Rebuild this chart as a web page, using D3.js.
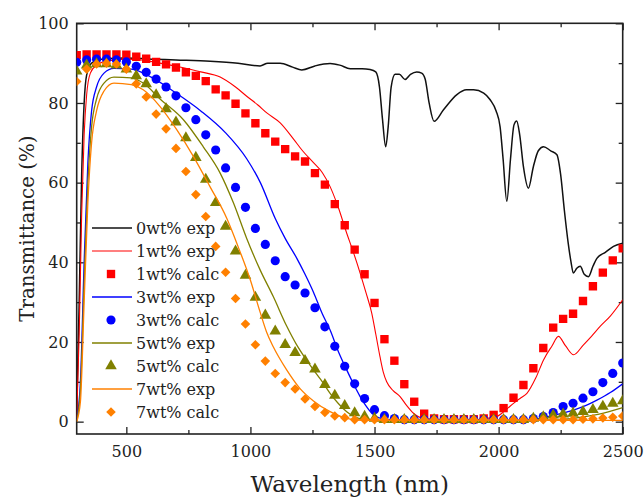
<!DOCTYPE html>
<html><head><meta charset="utf-8">
<script src="https://cdn.jsdelivr.net/npm/d3@7"></script>
<style>body{margin:0;background:#fff}svg{display:block}</style>
</head><body><svg id="c" width="644" height="497"></svg>
<script>
const xTicks = [500, 1000, 1500, 2000, 2500];
const xMinor = [750, 1250, 1750, 2250];
const yTicks = [0, 20, 40, 60, 80, 100];
const yMinor = [10, 30, 50, 70, 90];

const calcWavelength = [300,340,380,420,460,500,540,580,620,660,700,740,780,820,860,900,940,980,1020,1060,1100,1140,1180,1220,1260,1300,1340,1380,1420,1460,1500,1540,1580,1620,1660,1700,1740,1780,1820,1860,1900,1940,1980,2020,2060,2100,2140,2180,2220,2260,2300,2340,2380,2420,2460,2500];
const calc1 = [92,92.2,92.2,92.2,92.2,92.1,91.6,91.1,90.3,89.7,88.9,87.7,86.8,85.5,83.4,81.9,79.8,77.4,74.9,72.4,70.3,68.4,66.6,65.3,62.4,59.5,54.6,49.3,43.2,37,29.8,20.7,15.3,9.4,5,2,0.8,0.6,0.6,0.6,0.6,0.8,1.7,3.4,6,9.2,13.4,18.5,23.6,25.8,27.1,30.3,34,37.4,40.5,43.5];
const calc3 = [90.2,90.8,91,91,90.8,90.3,89.2,87.7,86,84,81.8,78.8,75.8,72,68.2,63.7,58.8,53.8,48.5,44.5,40.4,36.4,34.3,32.3,28.6,23.8,18.9,13.9,9.5,5.8,3,1.5,0.8,0.5,0.5,0.5,0.5,0.5,0.5,0.5,0.5,0.5,0.5,0.5,0.5,0.5,0.8,1.3,2.3,3.8,4.6,5.9,7.5,9.8,12.1,14.7];
const calc5 = [88,89.5,89.8,89.8,89.5,88.5,86.8,84.8,82,78.5,75.2,71.2,66.3,60.8,55,49,42.8,36.7,31.2,26.7,22.7,19.3,17.3,15.3,13.2,9.3,6.6,4,2.2,1.3,0.8,0.5,0.5,0.5,0.5,0.5,0.5,0.5,0.5,0.5,0.5,0.5,0.5,0.5,0.5,0.5,0.8,1.2,1.6,1.9,2.1,2.5,3,3.8,4.6,5.2];
const calc7 = [85.4,88.5,89.8,90,89.8,88.5,84.8,81.5,77.2,73.5,68.6,62.8,57,51.5,44,37.5,30.9,24.5,19.3,15.2,12.1,9.8,8.2,5.7,3.8,2.3,1.4,1,0.5,0.5,0.5,0.5,0.5,0.5,0.5,0.5,0.5,0.5,0.5,0.5,0.5,0.5,0.5,0.5,0.5,0.5,0.5,0.5,0.5,0.5,0.5,0.6,0.7,0.9,1.1,1.4];

const exp0 = [[300,2],[310,30],[320,62],[330,80],[340,87],[360,90],[400,91],[500,91.3],[600,91],[700,90.8],[838,90.5],[950,90],[1039,89.3],[1070,90],[1120,90],[1170,89],[1207,88.3],[1260,89.3],[1321,89.9],[1360,89.5],[1402,88.6],[1450,88.6],[1482,88.4],[1505,87.8],[1520,84],[1532,76],[1545,69],[1555,74],[1567,84],[1583,87.2],[1600,87.2],[1623,85.9],[1645,87.2],[1670,87.8],[1690,87.5],[1704,86],[1720,80],[1740,75.4],[1778,78.3],[1832,82.1],[1870,83.3],[1899,83.3],[1940,82.5],[1966,80.8],[1990,78],[2006,74],[2018,66],[2033,55.3],[2048,66],[2062,74.5],[2073,75.5],[2085,72],[2100,64],[2120,58.6],[2140,64],[2160,68],[2181,69],[2210,68],[2235,67],[2250,62],[2265,53],[2280,45],[2292,40],[2301,37.3],[2315,38.5],[2329,39],[2345,37],[2362,36.4],[2380,39],[2396,41],[2430,42.5],[2463,44],[2500,44.8]];
const exp1 = [[300,1],[310,22],[320,52],[330,72],[340,82],[355,87.5],[380,89.5],[420,90.5],[500,91],[560,90.8],[620,90.2],[700,89.2],[800,87.8],[878,86.5],[940,84],[985,81.7],[1030,79.5],[1066,77.5],[1120,75],[1173,71],[1210,68],[1254,65],[1290,62.5],[1321,59],[1350,54.5],[1388,47.3],[1415,42.5],[1442,37.3],[1465,32.5],[1489,27.2],[1505,22],[1522,16.3],[1535,12.5],[1549,10],[1575,7.8],[1603,6.3],[1630,4],[1657,2.1],[1700,0.8],[1800,0.5],[1900,0.5],[1950,0.8],[1993,1.3],[2030,3],[2060,4.6],[2090,6],[2114,7.1],[2150,11],[2181,15.5],[2215,19],[2241,21.4],[2270,19],[2302,16.8],[2342,19.3],[2375,21.5],[2409,23.9],[2450,26.5],[2500,30.6]];
const exp3 = [[300,0.5],[315,10],[330,40],[345,65],[360,78],[380,84],[410,87.5],[450,88.7],[520,88.5],[600,86.5],[700,82.5],[800,78],[900,72.5],[985,66],[1040,60],[1100,51],[1140,46],[1187,41],[1220,37],[1254,32.5],[1290,27],[1321,23],[1355,17.5],[1388,13],[1415,9.5],[1442,6.3],[1465,4],[1489,2.1],[1522,0.9],[1600,0.4],[2100,0.4],[2194,1.2],[2250,2],[2302,2.9],[2350,4],[2396,5.4],[2450,7.3],[2500,9.5]];
const exp5 = [[300,0.3],[315,8],[330,35],[345,60],[360,74],[380,81],[410,85],[450,86.5],[520,86.3],[568,85],[636,81],[730,75.8],[810,69],[878,62.4],[931,55],[985,46],[1039,38.1],[1092,31.4],[1146,24],[1187,19.2],[1220,16],[1254,13],[1290,10],[1321,7.1],[1355,4.5],[1388,2.5],[1420,1.2],[1455,0.6],[1550,0.3],[2200,0.3],[2300,0.8],[2400,1.8],[2500,3.5]];
const exp7 = [[300,0],[315,5],[330,30],[345,55],[360,70],[380,78],[410,83],[450,85],[520,84.6],[568,83.3],[636,79.1],[703,73.3],[770,66.6],[837,59],[905,51],[950,44],[1000,35.5],[1039,27.5],[1065,22.5],[1092,18.8],[1146,13],[1200,8.3],[1254,5.2],[1321,2.5],[1388,0.8],[1450,0.3],[2500,0.3]];

const legendLabels = ["0wt% exp","1wt% exp","1wt% calc","3wt% exp","3wt% calc","5wt% exp","5wt% calc","7wt% exp","7wt% calc"];

const C = {k:"#111", r:"#ff0000", b:"#0000ff", o:"#808000", g:"#ff8000"};
const svg = d3.select("#c");
svg.append("rect").attr("width",644).attr("height",497).attr("fill","#fff");
const L=76.7, R=622.7, T=23.3, B=434;
const x = d3.scaleLinear().domain([300,2500]).range([L,R]);
const y = d3.scaleLinear().domain([-3.1,100]).range([B,T]);
const font = "DejaVu Serif, serif";

svg.append("defs").append("clipPath").attr("id","clip").append("rect")
  .attr("x",L).attr("y",T).attr("width",R-L).attr("height",B-T);

function styleAxis(g, labels){
  g.attr("font-family",font);
  g.select(".domain").remove();
  g.selectAll(".tick line").attr("stroke","#222").attr("stroke-width",1.3);
  g.selectAll(".tick text").attr("fill","#222").attr("font-size",16);
  if(!labels) g.selectAll(".tick text").remove();
}
const fmt = d3.format("d");
svg.append("g").attr("transform",`translate(0,${B})`).call(d3.axisBottom(x).tickValues(xTicks).tickSize(-7).tickPadding(12).tickFormat(fmt)).call(g=>styleAxis(g,true));
svg.append("g").attr("transform",`translate(0,${B})`).call(d3.axisBottom(x).tickValues(xMinor).tickSize(-4).tickFormat("")).call(g=>styleAxis(g,false));
svg.append("g").attr("transform",`translate(0,${T})`).call(d3.axisTop(x).tickValues(xTicks).tickSize(-7).tickFormat("")).call(g=>styleAxis(g,false));
svg.append("g").attr("transform",`translate(0,${T})`).call(d3.axisTop(x).tickValues(xMinor).tickSize(-4).tickFormat("")).call(g=>styleAxis(g,false));
svg.append("g").attr("transform",`translate(${L},0)`).call(d3.axisLeft(y).tickValues(yTicks).tickSize(-7).tickPadding(8).tickFormat(fmt)).call(g=>styleAxis(g,true));
svg.append("g").attr("transform",`translate(${L},0)`).call(d3.axisLeft(y).tickValues(yMinor).tickSize(-4).tickFormat("")).call(g=>styleAxis(g,false));
svg.append("g").attr("transform",`translate(${R},0)`).call(d3.axisRight(y).tickValues(yTicks).tickSize(-7).tickFormat("")).call(g=>styleAxis(g,false));
svg.append("g").attr("transform",`translate(${R},0)`).call(d3.axisRight(y).tickValues(yMinor).tickSize(-4).tickFormat("")).call(g=>styleAxis(g,false));
svg.append("rect").attr("x",L).attr("y",T).attr("width",R-L).attr("height",B-T)
  .attr("fill","none").attr("stroke","#222").attr("stroke-width",1.6);

svg.append("text").attr("x",(L+R)/2).attr("y",492).attr("text-anchor","middle")
  .attr("font-family",font).attr("font-size",23).attr("fill","#222").text("Wavelength (nm)");
svg.append("text").attr("transform",`translate(27,${(T+B)/2}) rotate(-90)`).attr("text-anchor","middle")
  .attr("dy","0.35em").attr("font-family",font).attr("font-size",19.8).attr("fill","#222").text("Transmittance (%)");

const plot = svg.append("g").attr("clip-path","url(#clip)");
const line = d3.line().x(d=>x(d[0])).y(d=>y(d[1])).curve(d3.curveMonotoneX);
const sq = d3.symbol().type(d3.symbolSquare).size(70)();
const ci = d3.symbol().type(d3.symbolCircle).size(66)();
const tr = d3.symbol().type(d3.symbolTriangle).size(58)();
const di = d3.symbol().type(d3.symbolSquare).size(46)();

function drawLine(data,color,w){
  plot.append("path").datum(data).attr("d",line).attr("fill","none").attr("stroke",color).attr("stroke-width",w).attr("stroke-linejoin","round");
}
function drawMarks(vals,color,path,rot){
  plot.append("g").selectAll("path").data(vals).join("path")
    .attr("d",path).attr("fill",color)
    .attr("transform",(d,i)=>`translate(${x(calcWavelength[i])},${y(d)})${rot?" rotate(45)":""}`);
}
drawLine(exp0,C.k,1.5);
drawLine(exp1,C.r,1.1);
drawMarks(calc1,C.r,sq,false);
drawLine(exp3,C.b,1.3);
drawMarks(calc3,C.b,ci,false);
drawLine(exp5,C.o,1.3);
drawMarks(calc5,C.o,tr,false);
drawLine(exp7,C.g,1.3);
drawMarks(calc7,C.g,di,true);

const legendStyle = [
  {c:C.k,t:"line",w:1.5},{c:C.r,t:"line",w:1.1},{c:C.r,t:"mark",p:sq},
  {c:C.b,t:"line",w:1.5},{c:C.b,t:"mark",p:ci},{c:C.o,t:"line",w:1.3},
  {c:C.o,t:"mark",p:tr},{c:C.g,t:"line",w:1.5},{c:C.g,t:"mark",p:di,rot:true}];
const lg = svg.append("g");
legendLabels.forEach((lab,i)=>{
  const yy = 228 + 23*i, s = legendStyle[i];
  if(s.t==="line") lg.append("line").attr("x1",92).attr("x2",132).attr("y1",yy).attr("y2",yy).attr("stroke",s.c).attr("stroke-width",s.w);
  else lg.append("path").attr("d",s.p).attr("fill",s.c).attr("transform",`translate(111,${yy})${s.rot?" rotate(45)":""}`);
  lg.append("text").attr("x",136).attr("y",yy).attr("dy","0.35em").attr("font-family",font).attr("font-size",16).attr("fill","#222").text(lab);
});
</script></body></html>
